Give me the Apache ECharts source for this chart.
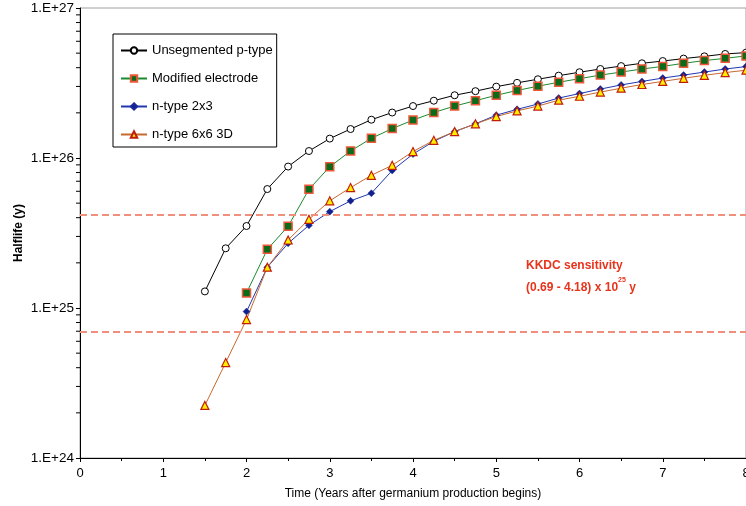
<!DOCTYPE html>
<html>
<head>
<meta charset="utf-8">
<script src="https://cdn.jsdelivr.net/npm/echarts@6/dist/echarts.min.js"></script>
<style>
  html, body { margin: 0; padding: 0; background: #fff; }
  #chart { width: 746px; height: 506px; }
</style>
</head>
<body>
<div id="chart"></div>
<script>
// Time since germanium production begins (years)
const years = [1.5, 1.75, 2, 2.25, 2.5, 2.75, 3, 3.25, 3.5, 3.75, 4, 4.25, 4.5, 4.75,
  5, 5.25, 5.5, 5.75, 6, 6.25, 6.5, 6.75, 7, 7.25, 7.5, 7.75, 8];

// Halflife sensitivity (y) per detector configuration
const unsegmentedPType = [1.29e25, 2.50e25, 3.52e25, 6.21e25, 8.77e25, 1.113e26, 1.347e26, 1.56e26,
  1.80e26, 2.01e26, 2.22e26, 2.41e26, 2.62e26, 2.79e26, 2.99e26, 3.17e26, 3.35e26, 3.54e26,
  3.73e26, 3.92e26, 4.10e26, 4.28e26, 4.43e26, 4.60e26, 4.76e26, 4.94e26, 5.04e26];
const modifiedElectrode = [null, null, 1.259e25, 2.46e25, 3.51e25, 6.18e25, 8.74e25, 1.113e26,
  1.353e26, 1.57e26, 1.79e26, 2.01e26, 2.22e26, 2.41e26, 2.62e26, 2.82e26, 3.01e26, 3.20e26,
  3.38e26, 3.57e26, 3.74e26, 3.92e26, 4.08e26, 4.28e26, 4.46e26, 4.62e26, 4.79e26];
const nType2x3 = [null, null, 9.46e24, 1.87e25, 2.70e25, 3.56e25, 4.39e25, 5.18e25, 5.82e25,
  8.26e25, 1.062e26, 1.292e26, 1.50e26, 1.69e26, 1.93e26, 2.11e26, 2.29e26, 2.51e26, 2.69e26,
  2.88e26, 3.07e26, 3.24e26, 3.41e26, 3.57e26, 3.74e26, 3.92e26, 4.07e26];
const nType6x6_3D = [2.24e24, 4.33e24, 8.37e24, 1.87e25, 2.84e25, 3.90e25, 5.18e25, 6.35e25,
  7.67e25, 8.94e25, 1.104e26, 1.312e26, 1.50e26, 1.69e26, 1.89e26, 2.06e26, 2.22e26, 2.43e26,
  2.58e26, 2.75e26, 2.92e26, 3.09e26, 3.24e26, 3.40e26, 3.56e26, 3.71e26, 3.85e26];

// KKDC claimed halflife range (y)
const kkdcRange = [0.69e25, 4.18e25];

// Log-axis decades and the minor tick multipliers within each decade
const decades = [1e24, 1e25, 1e26];
const minorMultipliers = [2, 3, 4, 5, 6, 7, 8, 9];

const seriesNames = ['Unsegmented p-type', 'Modified electrode', 'n-type 2x3', 'n-type 6x6 3D'];

const pair = arr => years.map((x, i) => [x, arr[i]]);

const minorTickData = [];
decades.forEach(d => minorMultipliers.forEach(m => minorTickData.push([0, d * m])));

const FONT = '"Liberation Sans", Arial, sans-serif';

const chart = echarts.init(document.getElementById('chart'), null, { renderer: 'canvas' });

chart.setOption({
  animation: false,
  backgroundColor: '#ffffff',
  textStyle: { fontFamily: FONT },
  grid: {
    left: 80, right: 0, top: 8, bottom: 48,
    containLabel: false, outerBoundsMode: 'none',
    show: true, borderColor: '#a0a0a0', borderWidth: 1, backgroundColor: 'transparent'
  },
  legend: {
    data: seriesNames,
    orient: 'vertical',
    left: 113, top: 34,
    padding: [10, 4, 6, 7],
    itemWidth: 26, itemHeight: 8, itemGap: 15,
    backgroundColor: '#ffffff',
    borderColor: '#000000', borderWidth: 1, borderRadius: 0,
    textStyle: { fontFamily: FONT, fontSize: 13, color: '#000' }
  },
  xAxis: {
    type: 'value',
    min: 0, max: 8, interval: 1,
    name: 'Time (Years after germanium production begins)',
    nameLocation: 'middle', nameGap: 30,
    nameTextStyle: { fontFamily: FONT, fontSize: 12, color: '#000' },
    axisLine: { show: true, lineStyle: { color: '#000', width: 1 } },
    axisTick: { show: true, length: 4, lineStyle: { color: '#000' } },
    minorTick: { show: true, splitNumber: 2, length: 3, lineStyle: { color: '#000' } },
    axisLabel: { fontFamily: FONT, fontSize: 13, color: '#000', margin: 9 },
    splitLine: { show: false }
  },
  yAxis: {
    type: 'log', logBase: 10,
    min: 1e24, max: 1e27,
    name: 'Halflife (y)',
    nameLocation: 'middle', nameGap: 55, nameMoveOverlap: false,
    nameTextStyle: { fontFamily: FONT, fontSize: 12, fontWeight: 'bold', color: '#000' },
    axisLine: { show: true, lineStyle: { color: '#000', width: 1 } },
    axisTick: { show: true, length: 4, lineStyle: { color: '#000' } },
    axisLabel: {
      fontFamily: FONT, fontSize: 13.5, color: '#000', margin: 6,
      formatter: v => '1.E+' + Math.round(Math.log10(v))
    },
    splitLine: { show: false }
  },
  graphic: [{
    type: 'text',
    left: 526, top: 260,
    style: {
      text: '{a|KKDC sensitivity}\n{a|(0.69 - 4.18) x 10}{s|25}{a| y}',
      rich: {
        a: { fontFamily: FONT, fontSize: 12, fontWeight: 'bold', fill: '#e8341c', lineHeight: 22 },
        s: { fontFamily: FONT, fontSize: 7, fontWeight: 'bold', fill: '#e8341c', lineHeight: 22, verticalAlign: 'top', padding: [0, 0, 8, 0] }
      }
    }
  }],
  series: [
    {
      name: seriesNames[0], type: 'line', data: pair(unsegmentedPType),
      symbol: 'circle', symbolSize: 7,
      lineStyle: { color: '#000000', width: 1 },
      itemStyle: { color: '#ffffff', borderColor: '#000000', borderWidth: 1 },
      markLine: {
        silent: true, symbol: 'none', animation: false,
        label: { show: false },
        lineStyle: { color: '#f0907c', type: [7, 4], width: 2 },
        data: kkdcRange.map(v => ({ yAxis: v }))
      }
    },
    {
      name: seriesNames[1], type: 'line', data: pair(modifiedElectrode),
      symbol: 'rect', symbolSize: 8,
      lineStyle: { color: '#1a8a2e', width: 1 },
      itemStyle: { color: '#0b6b1a', borderColor: '#f0583a', borderWidth: 1.5 }
    },
    {
      name: seriesNames[2], type: 'line', data: pair(nType2x3),
      symbol: 'diamond', symbolSize: 7,
      lineStyle: { color: '#2038b0', width: 1 },
      itemStyle: { color: '#10208c', borderColor: '#1a2a9a', borderWidth: 0.5 }
    },
    {
      name: seriesNames[3], type: 'line', data: pair(nType6x6_3D),
      symbol: 'triangle', symbolSize: 8,
      lineStyle: { color: '#c8682f', width: 1 },
      itemStyle: { color: '#ffee00', borderColor: '#c01c0a', borderWidth: 1.2 }
    },
    {
      // minor ticks on the logarithmic halflife axis
      type: 'custom', silent: true, clip: false,
      data: minorTickData,
      renderItem: (params, api) => {
        const p = api.coord([api.value(0), api.value(1)]);
        return {
          type: 'line',
          shape: { x1: p[0] - 4, y1: p[1], x2: p[0], y2: p[1] },
          style: { stroke: '#000', lineWidth: 1 }
        };
      }
    }
  ]
});
</script>
</body>
</html>
